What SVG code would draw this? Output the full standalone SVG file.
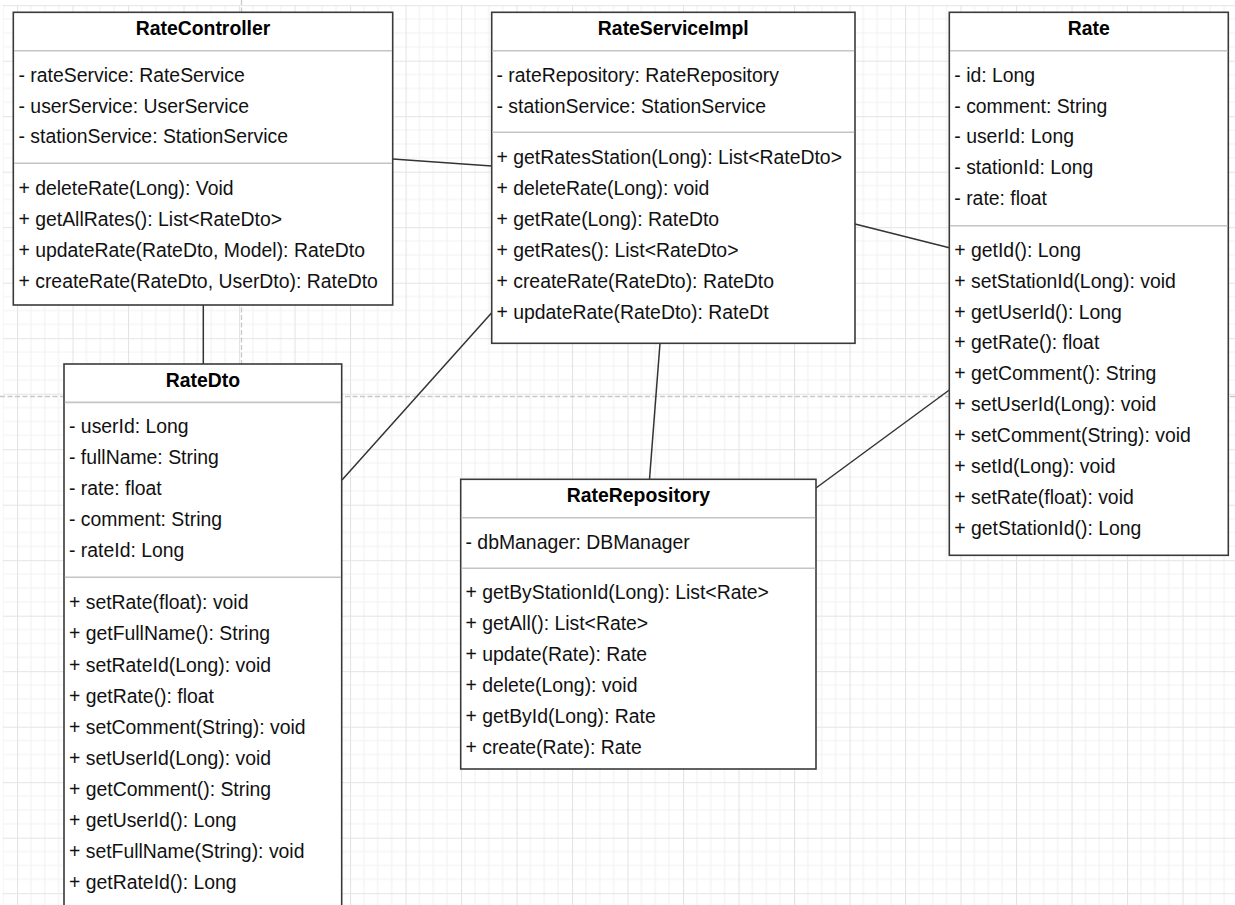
<svg xmlns="http://www.w3.org/2000/svg" width="1235" height="905" viewBox="0 0 1235 905">
  <style>
    .box { fill: #ffffff; stroke: #3a3a3a; stroke-width: 1.6; }
    .sep { stroke: #c4c4c4; stroke-width: 1.6; }
    .edge { stroke: #333333; stroke-width: 1.5; fill: none; }
    .brk { stroke: #c8c8c8; stroke-width: 1.3; stroke-dasharray: 5 2.5; fill: none; }
    text { font-family: "Liberation Sans", Arial, sans-serif; font-size: 19.4px; fill: #111111; }
    .title { font-weight: bold; text-anchor: middle; fill: #000000; }
  </style>
  <defs>
    <pattern id="grid" patternUnits="userSpaceOnUse" x="17" y="5.2" width="55.5" height="55.5">
      <path d="M13.875 0V55.5M27.75 0V55.5M41.625 0V55.5M0 13.875H55.5M0 27.75H55.5M0 41.625H55.5" stroke="#f2f2f2" stroke-width="1.2"/>
      <path d="M0.5 0V55.5M0 0.5H55.5" stroke="#e4e4e4" stroke-width="1.2"/>
    </pattern>
  </defs>

  <!-- canvas -->
  <rect width="1235" height="905" fill="#ffffff"/>
  <rect x="3" y="5" width="1232" height="900" fill="url(#grid)"/>

  <!-- page break guides -->
  <g id="page-breaks">
    <path class="brk" d="M0 396.5H1235"/>
    <path class="brk" d="M241.5 0V905"/>
  </g>

  <!-- associations -->
  <g id="connectors">
    <path class="edge" d="M392.7 159L491.7 166"/>
    <path class="edge" d="M203.3 305V364"/>
    <path class="edge" d="M342 480L491.7 312.7"/>
    <path class="edge" d="M855 224L949.3 247.7"/>
    <path class="edge" d="M660 343.3L649.5 479.3"/>
    <path class="edge" d="M816 488L949.3 390"/>
  </g>

  <g id="RateController">
    <rect class="box" x="13.3" y="12.3" width="379.4" height="292.7"/>
    <line class="sep" x1="14.1" y1="50.7" x2="391.9" y2="50.7"/>
    <line class="sep" x1="14.1" y1="163.3" x2="391.9" y2="163.3"/>
    <text class="title" x="203" y="35">RateController</text>
    <text x="18.5" y="81.7">- rateService: RateService</text>
    <text x="18.5" y="112.5">- userService: UserService</text>
    <text x="18.5" y="143.3">- stationService: StationService</text>
    <text x="18.5" y="195">+ deleteRate(Long): Void</text>
    <text x="18.5" y="225.8">+ getAllRates(): List&lt;RateDto&gt;</text>
    <text x="18.5" y="256.7">+ updateRate(RateDto, Model): RateDto</text>
    <text x="18.5" y="287.5">+ createRate(RateDto, UserDto): RateDto</text>
  </g>

  <g id="RateServiceImpl">
    <rect class="box" x="491.7" y="12.3" width="363.3" height="331"/>
    <line class="sep" x1="492.5" y1="50.7" x2="854.2" y2="50.7"/>
    <line class="sep" x1="492.5" y1="132.3" x2="854.2" y2="132.3"/>
    <text class="title" x="673.3" y="35">RateServiceImpl</text>
    <text x="496.5" y="81.7">- rateRepository: RateRepository</text>
    <text x="496.5" y="112.5">- stationService: StationService</text>
    <text x="496.5" y="163.5">+ getRatesStation(Long): List&lt;RateDto&gt;</text>
    <text x="496.5" y="194.5">+ deleteRate(Long): void</text>
    <text x="496.5" y="225.5">+ getRate(Long): RateDto</text>
    <text x="496.5" y="256.5">+ getRates(): List&lt;RateDto&gt;</text>
    <text x="496.5" y="287.5">+ createRate(RateDto): RateDto</text>
    <text x="496.5" y="318.5">+ updateRate(RateDto): RateDt</text>
  </g>

  <g id="Rate">
    <rect class="box" x="949.3" y="12.3" width="279" height="543"/>
    <line class="sep" x1="950.1" y1="50.7" x2="1227.5" y2="50.7"/>
    <line class="sep" x1="950.1" y1="225.7" x2="1227.5" y2="225.7"/>
    <text class="title" x="1088.8" y="35">Rate</text>
    <text x="954.3" y="81.7">- id: Long</text>
    <text x="954.3" y="112.5">- comment: String</text>
    <text x="954.3" y="143.3">- userId: Long</text>
    <text x="954.3" y="174.2">- stationId: Long</text>
    <text x="954.3" y="205">- rate: float</text>
    <text x="954.3" y="256.7">+ getId(): Long</text>
    <text x="954.3" y="287.6">+ setStationId(Long): void</text>
    <text x="954.3" y="318.5">+ getUserId(): Long</text>
    <text x="954.3" y="349.4">+ getRate(): float</text>
    <text x="954.3" y="380.3">+ getComment(): String</text>
    <text x="954.3" y="411.2">+ setUserId(Long): void</text>
    <text x="954.3" y="442.1">+ setComment(String): void</text>
    <text x="954.3" y="473">+ setId(Long): void</text>
    <text x="954.3" y="503.9">+ setRate(float): void</text>
    <text x="954.3" y="534.8">+ getStationId(): Long</text>
  </g>

  <g id="RateDto">
    <rect class="box" x="64" y="364" width="277.7" height="560"/>
    <line class="sep" x1="64.8" y1="402.4" x2="340.9" y2="402.4"/>
    <line class="sep" x1="64.8" y1="577.3" x2="340.9" y2="577.3"/>
    <text class="title" x="203" y="386.7">RateDto</text>
    <text x="69" y="433.4">- userId: Long</text>
    <text x="69" y="464.3">- fullName: String</text>
    <text x="69" y="495.2">- rate: float</text>
    <text x="69" y="526.1">- comment: String</text>
    <text x="69" y="557">- rateId: Long</text>
    <text x="69" y="609.3">+ setRate(float): void</text>
    <text x="69" y="640.4">+ getFullName(): String</text>
    <text x="69" y="671.5">+ setRateId(Long): void</text>
    <text x="69" y="702.6">+ getRate(): float</text>
    <text x="69" y="733.7">+ setComment(String): void</text>
    <text x="69" y="764.8">+ setUserId(Long): void</text>
    <text x="69" y="795.9">+ getComment(): String</text>
    <text x="69" y="827">+ getUserId(): Long</text>
    <text x="69" y="858.1">+ setFullName(String): void</text>
    <text x="69" y="889.2">+ getRateId(): Long</text>
  </g>

  <g id="RateRepository">
    <rect class="box" x="460.7" y="479.3" width="355.3" height="289.7"/>
    <line class="sep" x1="461.5" y1="517.7" x2="815.2" y2="517.7"/>
    <line class="sep" x1="461.5" y1="568.3" x2="815.2" y2="568.3"/>
    <text class="title" x="638.4" y="502">RateRepository</text>
    <text x="465.5" y="548.7">- dbManager: DBManager</text>
    <text x="465.5" y="599">+ getByStationId(Long): List&lt;Rate&gt;</text>
    <text x="465.5" y="630">+ getAll(): List&lt;Rate&gt;</text>
    <text x="465.5" y="661">+ update(Rate): Rate</text>
    <text x="465.5" y="692">+ delete(Long): void</text>
    <text x="465.5" y="723">+ getById(Long): Rate</text>
    <text x="465.5" y="754">+ create(Rate): Rate</text>
  </g>
</svg>
